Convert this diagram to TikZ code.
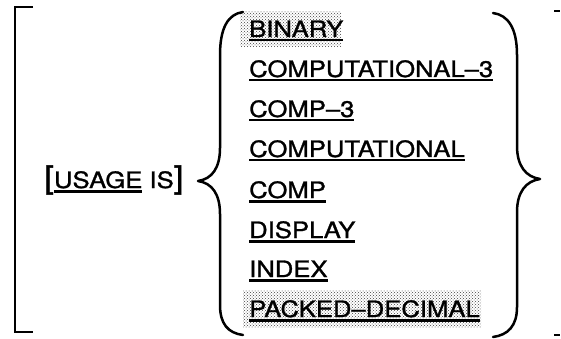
\documentclass[tikz,border=0pt]{standalone}
\usepackage{fontspec}
\setmainfont[FakeStretch=1.14, FakeBold=1.2]{TeX Gyre Heros}
\usetikzlibrary{patterns}

% underlined keyword: a rule as wide as the word, just under the baseline
\newsavebox\ulbox
\newcommand\ulword[1]{\sbox\ulbox{#1}\leavevmode\rlap{\rule[-4.5pt]{\wd\ulbox}{2.2pt}}\usebox\ulbox}

\tikzset{
  kw/.style={anchor=base west, inner sep=0pt, font=\fontsize{22.5}{22.5}\selectfont},
  stip/.style={pattern=crosshatch dots, pattern color=black!75},
  brace/.style={line width=2.5pt, line cap=round, line join=round},
  frame/.style={line width=2.2pt},
}

\begin{document}
\begin{tikzpicture}[x=1pt, y=-1pt]
\useasboundingbox (0,0) rectangle (561,339);

% stippled backgrounds of the two highlighted choices
\path[stip] (240,12) rectangle (341,47);
\path[stip] (243,290) rectangle (481,327);

% outer optional bracket and the cut-off ends on the right
\draw[frame] (33,7) -- (15,7) -- (15,332) -- (33,332);
\draw[frame] (554,11) -- (560,11);
\draw[frame] (554,335) -- (560,335);

% clause keyword
\node[kw] (usage) at (44,188)
  {{\fontsize{31}{31}\selectfont[}\ulword{USAGE} IS{\fontsize{31}{31}\selectfont]}};

% choices
\node[kw] (c1) at (249,37)  {\ulword{BINARY}};
\node[kw] (c2) at (249,77)  {\ulword{COMPUTATIONAL–3}};
\node[kw] (c3) at (249,117) {\ulword{COMP–3}};
\node[kw] (c4) at (249,157) {\ulword{COMPUTATIONAL}};
\node[kw] (c5) at (249,198) {\ulword{COMP}};
\node[kw] (c6) at (249,238) {\ulword{DISPLAY}};
\node[kw] (c7) at (249,277) {\ulword{INDEX}};
\node[kw] (c8) at (249,317) {\ulword{PACKED–DECIMAL}};

% left brace
\draw[brace] (243,12) .. controls (228,14) and (220,28) .. (220,55)
  -- (220,148) .. controls (220,168) and (212,179) .. (198,181)
  .. controls (212,183) and (220,194) .. (220,214)
  -- (220,305) .. controls (220,324) and (228,333) .. (243,335);

% right brace
\draw[brace] (493,13) .. controls (508,15) and (517,28) .. (517,55)
  -- (517,146) .. controls (517,166) and (526,177) .. (540,179)
  .. controls (526,181) and (517,192) .. (517,212)
  -- (517,307) .. controls (517,326) and (508,335) .. (493,337);
\end{tikzpicture}
\end{document}
